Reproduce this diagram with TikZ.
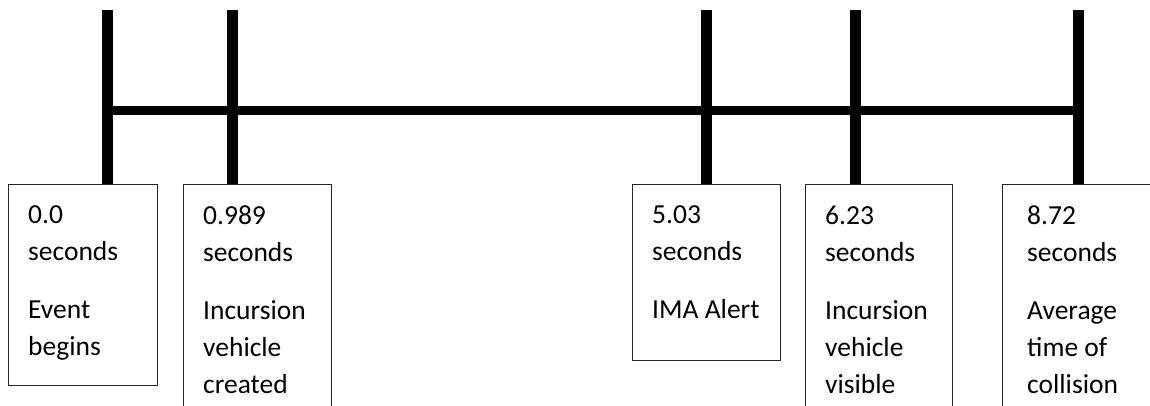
\documentclass[tikz,border=0pt]{standalone}
\usepackage{fontspec}
\setmainfont{Carlito}
\usetikzlibrary{calc}
\begin{document}
\begin{tikzpicture}[x=1pt,y=-1pt,
  box/.style={draw=black!85,line width=1pt,rectangle,anchor=north west,inner sep=0pt},
  txt/.style={anchor=north west,align=left,inner sep=0pt,font=\fontsize{27.5}{37}\selectfont},
  vbar/.style={line width=11pt},
  hbar/.style={line width=9pt}]
\useasboundingbox[fill=white] (0,0) rectangle (1150,406);
% boxes
\node[box,minimum width=149pt,minimum height=201pt] (b1) at (8,184) {};
\node[box,minimum width=148pt,minimum height=260pt] (b2) at (183,184) {};
\node[box,minimum width=148pt,minimum height=176pt] (b3) at (632,184) {};
\node[box,minimum width=147pt,minimum height=260pt] (b4) at (805,184) {};
\node[box,minimum width=200pt,minimum height=260pt] (b5) at (1002,184) {};
% texts
\node[txt] (t1) at ($(b1.north west)+(20,21.5)$) {0.0\\seconds\\[21pt]Event\\begins};
\node[txt] (t2) at ($(b2.north west)+(20,21.5)$) {0.989\\seconds\\[21pt]Incursion\\vehicle\\created};
\node[txt] (t3) at ($(b3.north west)+(20,21.5)$) {5.03\\seconds\\[21pt]IMA Alert};
\node[txt] (t4) at ($(b4.north west)+(20,21.5)$) {6.23\\seconds\\[21pt]Incursion\\vehicle\\visible};
\node[txt] (t5) at ($(b5.north west)+(25,21.5)$) {8.72\\seconds\\[21pt]Average\\time of\\collision};
% bar tops
\coordinate (p1) at (107,10);
\coordinate (p2) at (232,10);
\coordinate (p3) at (706,10);
\coordinate (p4) at (855,10);
\coordinate (p5) at (1078,10);
\coordinate (h1) at (107,110.5);
\coordinate (h5) at (1078,110.5);
\draw[hbar] (h1) -- (h5);
\draw[vbar] (p1) -- (p1 |- b1.north);
\draw[vbar] (p2) -- (p2 |- b2.north);
\draw[vbar] (p3) -- (p3 |- b3.north);
\draw[vbar] (p4) -- (p4 |- b4.north);
\draw[vbar] (p5) -- (p5 |- b5.north);
\end{tikzpicture}
\end{document}
